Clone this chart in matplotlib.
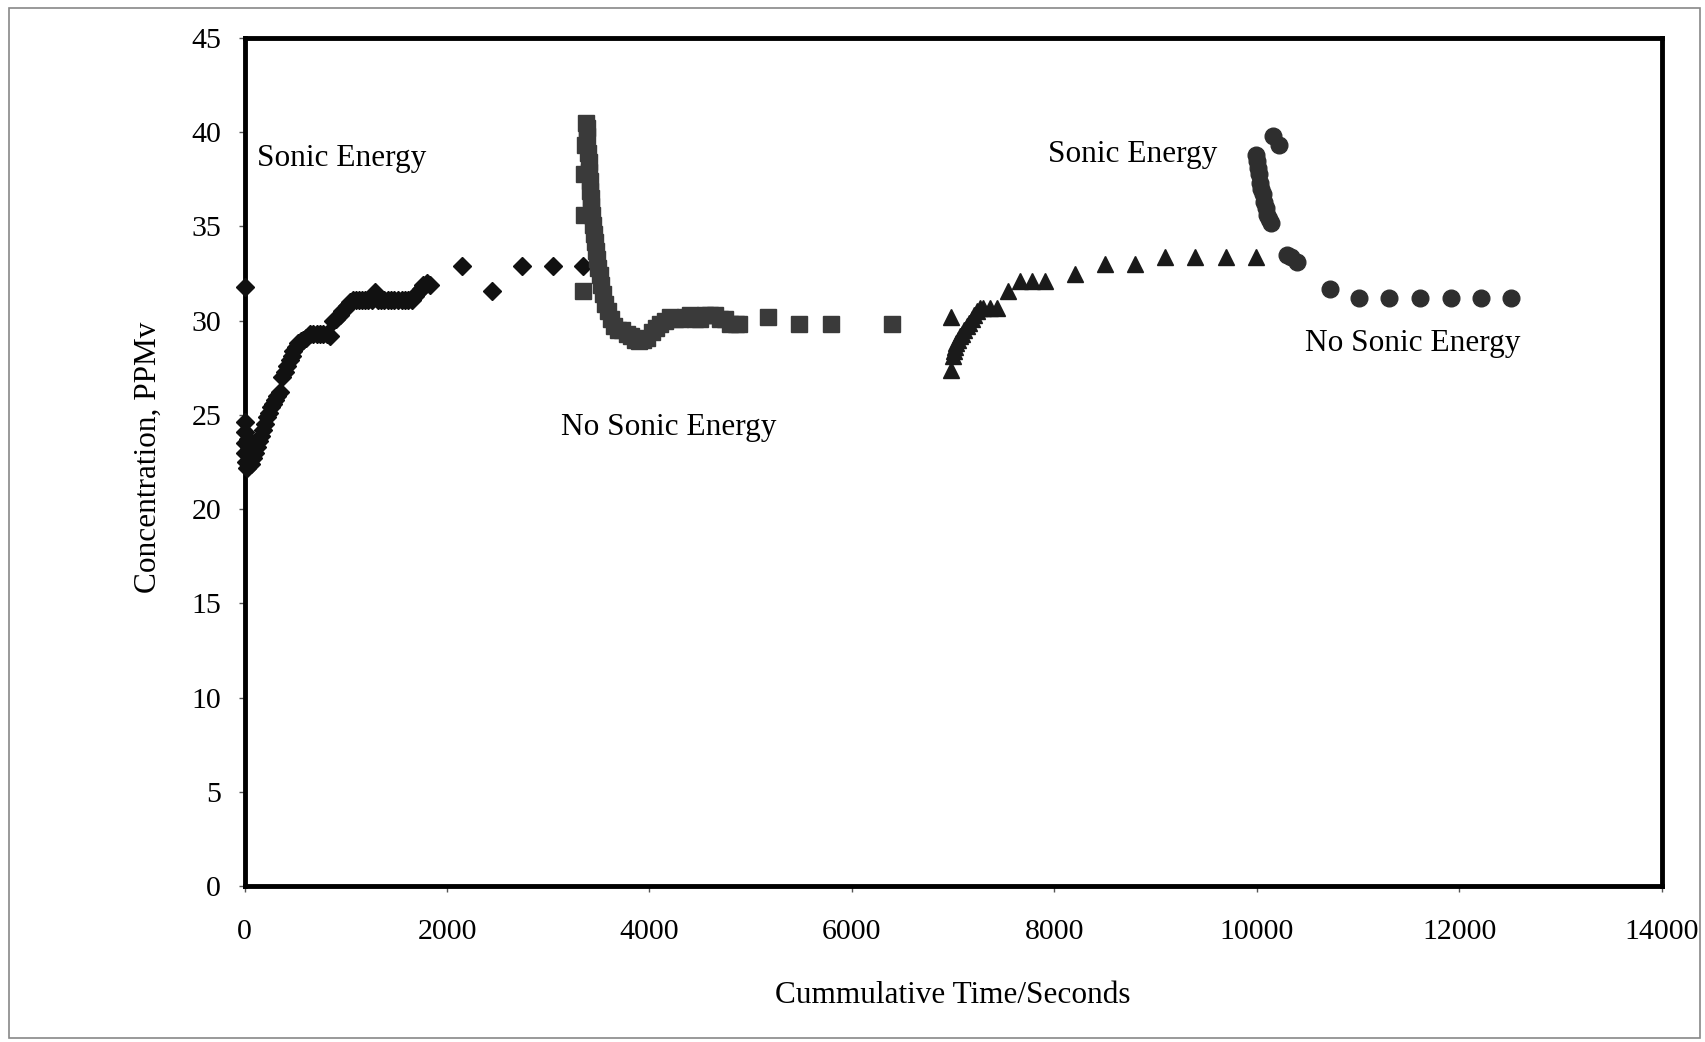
import matplotlib
matplotlib.use("Agg")
import matplotlib.pyplot as plt
from matplotlib.patches import Rectangle

plt.rcParams["font.family"] = ["Liberation Serif", "DejaVu Serif"]

# sonic energy on (first run)
sonic1_t = [0, 0, 0, 0, 0, 10, 20, 30, 40, 50, 60, 80, 100, 120, 140, 160, 180, 200,
            220, 240, 260, 280, 300, 320, 345, 365, 395, 420, 445, 465, 480, 505,
            530, 555, 580, 610, 645, 680, 710, 745, 775, 810, 840, 875, 905, 940,
            965, 990, 1015, 1040, 1070, 1100, 1130, 1160, 1190, 1220, 1255, 1285,
            1320, 1350, 1380, 1415, 1450, 1480, 1515, 1550, 1580, 1615, 1650, 1685,
            1710, 1740, 1765, 1800, 1830, 2145, 2440, 2740, 3045, 3345]
sonic1_c = [31.8, 24.6, 24.1, 23.5, 23.0, 22.5, 22.2, 23.7, 23.3, 22.8, 22.4, 22.7,
            23.0, 23.3, 23.6, 23.9, 24.2, 24.5, 24.9, 25.1, 25.4, 25.6, 25.8, 26.0,
            26.2, 27.0, 27.3, 27.6, 27.9, 28.1, 28.4, 28.6, 28.8, 28.9, 29.0, 29.1,
            29.3, 29.3, 29.3, 29.3, 29.3, 29.3, 29.2, 30.0, 30.1, 30.3, 30.5, 30.6,
            30.8, 31.0, 31.1, 31.1, 31.1, 31.1, 31.1, 31.1, 31.1, 31.5, 31.1, 31.1,
            31.1, 31.1, 31.1, 31.1, 31.1, 31.1, 31.1, 31.1, 31.1, 31.3, 31.5, 31.7,
            31.9, 32.0, 31.9, 32.9, 31.6, 32.9, 32.9, 32.9]

# no sonic energy (first run)
quiet1_t = [3345, 3350, 3355, 3360, 3370, 3380, 3385, 3390, 3400, 3405, 3410, 3415,
            3420, 3425, 3430, 3440, 3450, 3460, 3470, 3480, 3495, 3510, 3525, 3545,
            3565, 3590, 3615, 3650, 3690, 3730, 3775, 3820, 3860, 3900, 3940, 3980,
            4020, 4060, 4100, 4150, 4200, 4250, 4300, 4350, 4400, 4450, 4500, 4550,
            4600, 4650, 4700, 4750, 4800, 4850, 4880, 5170, 5480, 5790, 6400]
quiet1_c = [31.6, 35.6, 37.8, 39.3, 40.5, 40.2, 39.8, 38.9, 38.4, 37.9, 37.4, 36.9,
            36.5, 36.1, 35.6, 35.1, 34.6, 34.2, 33.7, 33.3, 32.8, 32.4, 31.9, 31.4,
            30.9, 30.5, 30.1, 29.7, 29.5, 29.5, 29.3, 29.2, 29.0, 28.9, 29.0, 29.1,
            29.4, 29.6, 29.8, 30.0, 30.2, 30.1, 30.1, 30.2, 30.3, 30.1, 30.1, 30.3,
            30.3, 30.3, 30.1, 30.1, 29.8, 29.8, 29.8, 30.2, 29.8, 29.8, 29.8]

# sonic energy on (second run)
sonic2_t = [6980, 6980, 6995, 7005, 7015, 7030, 7045, 7065, 7085, 7110, 7135, 7160,
            7185, 7210, 7240, 7265, 7295, 7360, 7430, 7545, 7660, 7775, 7905, 8200,
            8500, 8795, 9090, 9390, 9700, 9995]
sonic2_c = [30.2, 27.4, 28.1, 28.4, 28.6, 28.8, 29.0, 29.2, 29.3, 29.5, 29.7, 29.9,
            30.1, 30.3, 30.5, 30.7, 30.7, 30.7, 30.7, 31.6, 32.1, 32.1, 32.1, 32.5,
            33.0, 33.0, 33.4, 33.4, 33.4, 33.4]

# no sonic energy (second run)
quiet2_t = [9995, 10005, 10015, 10025, 10035, 10045, 10060, 10075, 10090, 10105,
            10120, 10140, 10160, 10225, 10300, 10340, 10400, 10720, 11015, 11310,
            11610, 11920, 12220, 12515]
quiet2_c = [38.8, 38.5, 38.1, 37.8, 37.3, 37.0, 36.7, 36.3, 36.0, 35.6, 35.4, 35.2,
            39.8, 39.3, 33.5, 33.4, 33.1, 31.7, 31.2, 31.2, 31.2, 31.2, 31.2, 31.2]

fig = plt.figure(figsize=(17.05, 10.42), dpi=100)
ax = fig.add_axes([0.1435, 0.1497, 0.8310, 0.8138])

ax.plot(sonic1_t, sonic1_c, "D", color="#111111", ms=9.5, clip_on=False, zorder=3)
ax.plot(quiet1_t, quiet1_c, "s", color="#3a3a3a", ms=11.5, zorder=3)
ax.plot(sonic2_t, sonic2_c, "^", color="#1a1a1a", ms=11, zorder=3)
ax.plot(quiet2_t, quiet2_c, "o", color="#2e2e2e", ms=12, zorder=3)

ax.text(122, 38.6, "Sonic Energy", fontsize=22.5, va="center", ha="left")
ax.text(3130, 24.35, "No Sonic Energy", fontsize=22.5, va="center", ha="left")
ax.text(7937, 38.8, "Sonic Energy", fontsize=22.5, va="center", ha="left")
ax.text(10477, 28.8, "No Sonic Energy", fontsize=22.5, va="center", ha="left")

ax.set_xlim(0, 14000)
ax.set_ylim(0, 45)
ax.set_xticks(range(0, 14001, 2000))
ax.set_yticks(range(0, 46, 5))

for sp in ax.spines.values():
    sp.set_linewidth(3.5)
    sp.set_color("black")

ax.tick_params(axis="both", direction="out", length=4, width=1, color="#555555",
               labelsize=21.5)
ax.tick_params(axis="x", pad=20)
ax.tick_params(axis="y", pad=13)

ax.set_xlabel("Cummulative Time/Seconds", fontsize=22.5)
ax.set_ylabel("Concentration, PPMv", fontsize=22.5)
ax.xaxis.set_label_coords(0.5, -0.112)
ax.yaxis.set_label_coords(-0.058, 0.505)

# thin border around the whole chart
fig.patches.append(Rectangle((0.0053, 0.0038), 0.992, 0.9885, transform=fig.transFigure,
                             fill=False, edgecolor="#888888", linewidth=1.2))

fig.savefig("out.png", dpi=100)
